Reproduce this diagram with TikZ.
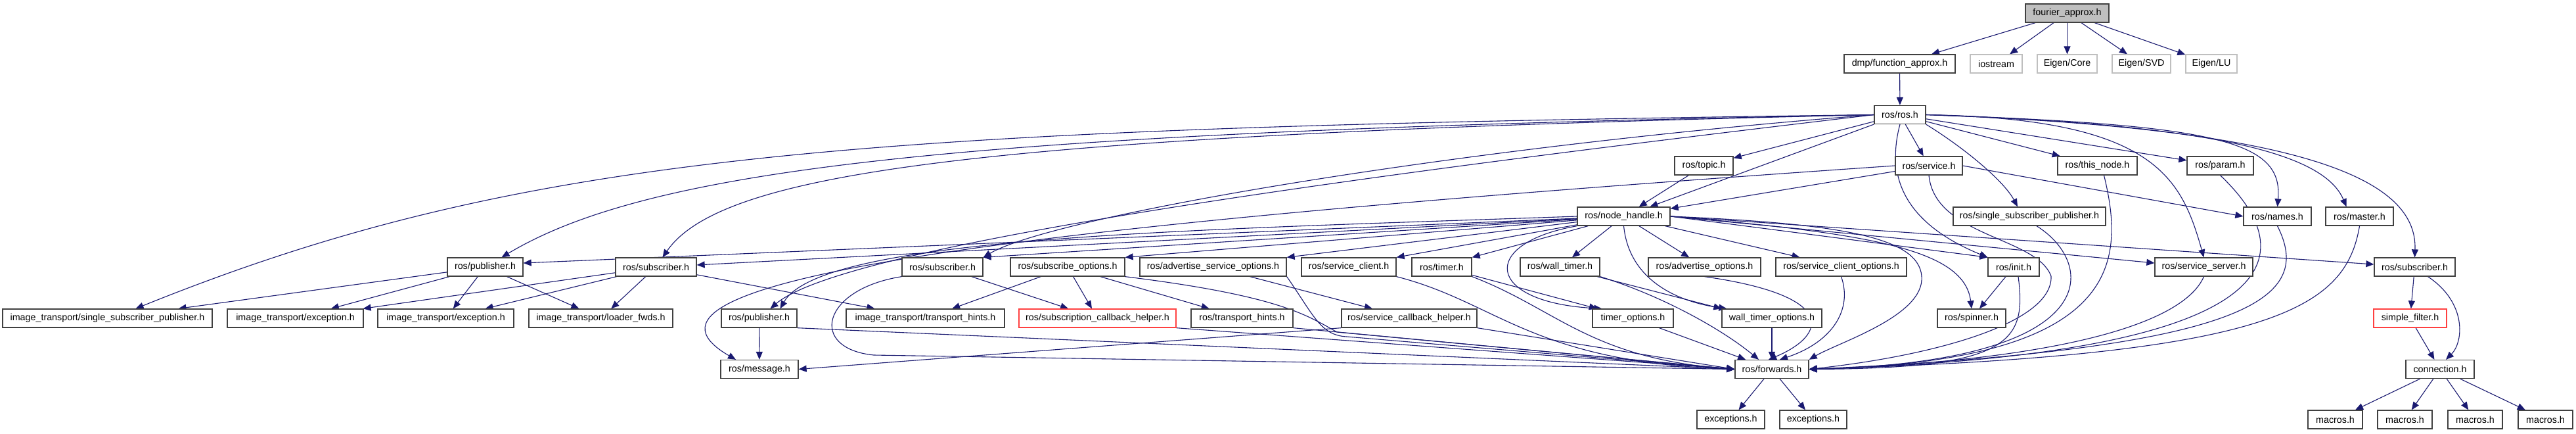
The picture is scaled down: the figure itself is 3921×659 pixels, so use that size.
\documentclass[tikz,border=0pt]{standalone}
\usepackage{fontspec}
\setmainfont{Liberation Sans}
\usetikzlibrary{arrows.meta}
\definecolor{edgec}{RGB}{25,25,112}
\definecolor{boxc}{RGB}{64,64,64}
\definecolor{grayb}{RGB}{191,191,191}
\definecolor{redb}{RGB}{255,64,64}
\pgfdeclarelayer{bg}
\pgfdeclarelayer{paper}
\pgfsetlayers{paper,bg,main}
\begin{document}
\begin{tikzpicture}[x=1pt,y=-1pt,
  box/.style={draw=boxc, line width=1.3pt, fill=white, minimum height=28pt, inner sep=0pt, font=\fontsize{14.3}{17}\selectfont},
  extbox/.style={box, draw=grayb},
  rootbox/.style={box, fill=grayb},
  redbox/.style={box, draw=redb},
  conn/.style={draw=edgec, line width=1.1pt, -{Triangle[length=12pt,width=10pt]}}]
\begin{pgfonlayer}{paper}
\fill[white] (0,0) rectangle (3921,659);
\end{pgfonlayer}
\useasboundingbox (0,0) rectangle (3921,659);
% row 0
\node[rootbox, minimum width=127pt] (fourier) at (3146.5,20) {fourier\_approx.h};
% row 1
\node[box, minimum width=169pt] (dmp) at (2891.5,97) {dmp/function\_approx.h};
\node[extbox, minimum width=79pt] (iostream) at (3038.5,97) {iostream};
\node[extbox, minimum width=91pt] (eigencore) at (3146.5,97) {Eigen/Core};
\node[extbox, minimum width=89pt] (eigensvd) at (3259.5,97) {Eigen/SVD};
\node[extbox, minimum width=78pt] (eigenlu) at (3366,97) {Eigen/LU};
% row 2
\node[box, minimum width=78pt] (ros) at (2892,174.5) {ros/ros.h};
% row 3
\node[box, minimum width=89pt] (topic) at (2593.5,252) {ros/topic.h};
\node[box, minimum width=102pt] (service) at (2936,252) {ros/service.h};
\node[box, minimum width=121pt] (thisnode) at (3192.5,252) {ros/this\_node.h};
\node[box, minimum width=101pt] (param) at (3379.5,252) {ros/param.h};
% row 4
\node[box, minimum width=141pt] (nh) at (2471.5,329) {ros/node\_handle.h};
\node[box, minimum width=232pt] (ssp) at (3089,329) {ros/single\_subscriber\_publisher.h};
\node[box, minimum width=103pt] (names) at (3466.5,329) {ros/names.h};
\node[box, minimum width=103pt] (master) at (3591.5,329) {ros/master.h};
% row 5
\node[box, minimum width=115pt] (pubL) at (738.5,406) {ros/publisher.h};
\node[box, minimum width=123pt] (subL) at (998.5,406) {ros/subscriber.h};
\node[box, minimum width=123pt] (subM) at (1434.5,406) {ros/subscriber.h};
\node[box, minimum width=174pt] (subopt) at (1625,406) {ros/subscribe\_options.h};
\node[box, minimum width=223pt] (advsrvopt) at (1846.5,406) {ros/advertise\_service\_options.h};
\node[box, minimum width=144pt] (srvclient) at (2053,406) {ros/service\_client.h};
\node[box, minimum width=91pt] (timer) at (2194.5,406) {ros/timer.h};
\node[box, minimum width=121pt] (walltimer) at (2374.5,406) {ros/wall\_timer.h};
\node[box, minimum width=171pt] (advopt) at (2594.5,406) {ros/advertise\_options.h};
\node[box, minimum width=199pt] (srvclientopt) at (2802.5,406) {ros/service\_client\_options.h};
\node[box, minimum width=78pt] (init) at (3065,406) {ros/init.h};
\node[box, minimum width=149pt] (srvserver) at (3354.5,406) {ros/service\_server.h};
\node[box, minimum width=123pt] (subR) at (3675.5,406) {ros/subscriber.h};
% row 6
\node[box, minimum width=319pt] (itssp) at (163.5,484) {image\_transport/single\_subscriber\_publisher.h};
\node[box, minimum width=207pt] (itexc1) at (449.5,484) {image\_transport/exception.h};
\node[box, minimum width=207pt] (itexc2) at (678.5,484) {image\_transport/exception.h};
\node[box, minimum width=219pt] (itloader) at (914.5,484) {image\_transport/loader\_fwds.h};
\node[box, minimum width=115pt] (pub2) at (1155.5,484) {ros/publisher.h};
\node[box, minimum width=241pt] (ithints) at (1408.5,484) {image\_transport/transport\_hints.h};
\node[redbox, minimum width=239pt] (subcb) at (1670.5,484) {ros/subscription\_callback\_helper.h};
\node[box, minimum width=155pt] (transhints) at (1890.5,484) {ros/transport\_hints.h};
\node[box, minimum width=206pt] (srvcb) at (2145,484) {ros/service\_callback\_helper.h};
\node[box, minimum width=123pt] (timeropt) at (2485.5,484) {timer\_options.h};
\node[box, minimum width=152pt] (walltimeropt) at (2697,484) {wall\_timer\_options.h};
\node[box, minimum width=104pt] (spinner) at (3001,484) {ros/spinner.h};
\node[redbox, minimum width=111pt] (simplefilter) at (3668.5,484) {simple\_filter.h};
% row 7
\node[box, minimum width=118pt] (message) at (1156,561.5) {ros/message.h};
\node[box, minimum width=112pt] (forwards) at (2697,561.5) {ros/forwards.h};
\node[box, minimum width=104pt] (connection) at (3714,561.5) {connection.h};
% row 8
\node[box, minimum width=103pt] (exc1) at (2634.5,638) {exceptions.h};
\node[box, minimum width=102pt] (exc2) at (2760,638) {exceptions.h};
\node[box, minimum width=83pt] (m1) at (3554.5,638) {macros.h};
\node[box, minimum width=83pt] (m2) at (3660.5,638) {macros.h};
\node[box, minimum width=83pt] (m3) at (3767.5,638) {macros.h};
\node[box, minimum width=83pt] (m4) at (3874.5,638) {macros.h};

\begin{pgfonlayer}{bg}
% fourier
\draw[conn] (fourier) -- (dmp);
\draw[conn] (fourier) -- (iostream);
\draw[conn] (fourier) -- (eigencore);
\draw[conn] (fourier) -- (eigensvd);
\draw[conn] (fourier) -- (eigenlu);
\draw[conn] (dmp) -- (ros);
% ros.h
\draw[conn] (ros) -- (topic);
\draw[conn] (ros) -- (service);
\draw[conn] (ros) -- (thisnode);
\draw[conn] (ros) -- (param);
\draw[conn] (ros) -- (nh);
\draw[conn] (ros.south east) .. controls (2990,225) and (3050,275) .. ([xshift=-18pt]ssp.north);
\draw[conn] (ros.east) .. controls (3380,190) and (3475,215) .. (names.north);
\draw[conn] (ros.east) .. controls (3400,190) and (3540,240) .. ([xshift=-20pt]master.north);
\draw[conn] (ros.east) .. controls (3500,195) and (3680,270) .. (subR.north);
\draw[conn] (ros.east) .. controls (3280,180) and (3320,270) .. (srvserver.north);
\draw[conn] (ros.south) .. controls (2870,270) and (2900,340) .. (init.north west);
\draw[conn] (ros.west) .. controls (1300,195) and (800,230) .. ([xshift=43pt]itssp.north);
\draw[conn] (ros.west) .. controls (1500,200) and (1000,250) .. ([xshift=25pt]pubL.north);
\draw[conn] (ros.west) .. controls (1500,205) and (1100,260) .. ([xshift=10pt]subL.north);
\draw[conn] (ros.west) .. controls (2200,225) and (1600,330) .. (subM.north east);
\draw[conn] (ros.west) .. controls (2300,240) and (1300,360) .. ([xshift=17pt]pub2.north);
% topic, service
\draw[conn] (topic) -- (nh);
\draw[conn] (service) -- (nh);
\draw[conn] (service.east) -- (names.west);
\draw[conn] (service.west) .. controls (1600,340) and (900,420) .. ([xshift=-36pt]message.north);
\draw[conn] (service.south) .. controls (2945,360) and (3100,360) .. (3122,420) .. controls (3125,490) and (2950,540) .. (forwards.east);
% row 3/4 to forwards
\draw[conn] ([xshift=11pt]ssp.south) .. controls (3190,400) and (3210,550) .. (forwards.east);
\draw[conn] ([xshift=10pt]thisnode.south) .. controls (3235,400) and (3230,550) .. (forwards.east);
\draw[conn] (param.south) .. controls (3520,400) and (3460,540) .. (forwards.east);
\draw[conn] (names.south) .. controls (3520,450) and (3440,530) .. (forwards.east);
\draw[conn] (master.south) .. controls (3570,470) and (3460,540) .. (forwards.east);
\draw[conn] (srvserver.south) .. controls (3320,500) and (3100,550) .. (forwards.east);
\draw[conn] ([xshift=7pt]init.south) .. controls (3085,520) and (3060,560) .. (forwards.east);
\draw[conn] (init) -- (spinner);
% node_handle
\draw[conn] (nh) -- ([yshift=6pt]pubL.east);
\draw[conn] (nh) -- ([yshift=3pt]subL.east);
\draw[conn] (nh.west) .. controls (1800,350) and (1250,360) .. ([xshift=32pt]pub2.north);
\draw[conn] (nh) -- (subM.north east);
\draw[conn] (nh) -- (subopt.north east);
\draw[conn] (nh) -- (advsrvopt.north east);
\draw[conn] (nh) -- (srvclient.north east);
\draw[conn] (nh) -- (timer.north east);
\draw[conn] (nh) -- (walltimer);
\draw[conn] (nh) -- (advopt);
\draw[conn] (nh) -- (srvclientopt);
\draw[conn] (nh.east) -- (init.north west);
\draw[conn] (nh.east) .. controls (2850,355) and (2990,380) .. (spinner.north);
\draw[conn] (nh.east) -- ([yshift=6pt]srvserver.west);
\draw[conn] (nh.east) -- ([yshift=4pt]subR.west);
\draw[conn] (nh.east) .. controls (2800,340) and (2920,360) .. (2925,420) .. controls (2930,480) and (2800,520) .. (forwards.north east);
\draw[conn] (nh.south west) .. controls (2250,370) and (2260,460) .. ([xshift=15pt]timeropt.north west);
\draw[conn] (nh.south) .. controls (2480,430) and (2560,460) .. ([xshift=8pt]walltimeropt.north west);
% row 5 sources
\draw[conn] (pubL) -- (itssp);
\draw[conn] (pubL) -- (itexc1);
\draw[conn] (pubL) -- (itexc2);
\draw[conn] (pubL) -- (itloader);
\draw[conn] (subL) -- (itexc1);
\draw[conn] (subL) -- (itexc2);
\draw[conn] (subL) -- (itloader);
\draw[conn] (subL) -- (ithints);
\draw[conn] (subM) -- (subcb);
\draw[conn] (subM.south west) .. controls (1250,440) and (1230,530) .. (1330,540) -- (forwards.west);
\draw[conn] (subopt) -- (ithints);
\draw[conn] (subopt) -- (subcb);
\draw[conn] (subopt) -- (transhints);
\draw[conn] (subopt.south east) .. controls (1950,450) and (1990,480) .. (2035,505) -- (forwards.west);
\draw[conn] (advsrvopt) -- (srvcb);
\draw[conn] (advsrvopt.south east) .. controls (2000,480) and (2010,510) .. (2050,512) -- (forwards.west);
\draw[conn] (srvclient.south east) .. controls (2280,460) and (2330,550) .. (forwards.west);
\draw[conn] (timer) -- (timeropt);
\draw[conn] (timer.south east) .. controls (2370,470) and (2420,545) .. (forwards.west);
\draw[conn] (walltimer) -- (walltimeropt.north west);
\draw[conn] (walltimer.south east) .. controls (2530,450) and (2620,500) .. ([xshift=-20pt]forwards.north);
\draw[conn] (advopt.south) .. controls (2800,450) and (2780,510) .. ([xshift=-5pt]forwards.north);
\draw[conn] (srvclientopt.south) .. controls (2820,470) and (2790,520) .. ([xshift=12pt]forwards.north);
% row 6 sources
\draw[conn] (pub2) -- (message);
\draw[conn] (pub2.south east) -- (forwards.west);
\draw[conn] (subcb.south east) -- (forwards.west);
\draw[conn] (transhints.south east) -- (forwards.west);
\draw[conn] (srvcb.south west) -- (message.east);
\draw[conn] (srvcb.south east) -- (forwards.west);
\draw[conn] (timeropt) -- (forwards);
\draw[conn] (walltimeropt) -- (forwards);
% forwards
\draw[conn] (forwards) -- (exc1);
\draw[conn] (forwards) -- (exc2);
% message_filters part
\draw[conn] (subR) -- (simplefilter);
\draw[conn] ([xshift=20pt]subR.south) .. controls (3755,460) and (3750,520) .. ([xshift=9pt]connection.north);
\draw[conn] (simplefilter) -- (connection);
\draw[conn] (connection) -- (m1);
\draw[conn] (connection) -- (m2);
\draw[conn] (connection) -- (m3);
\draw[conn] (connection) -- (m4);
\end{pgfonlayer}
\end{tikzpicture}
\end{document}
